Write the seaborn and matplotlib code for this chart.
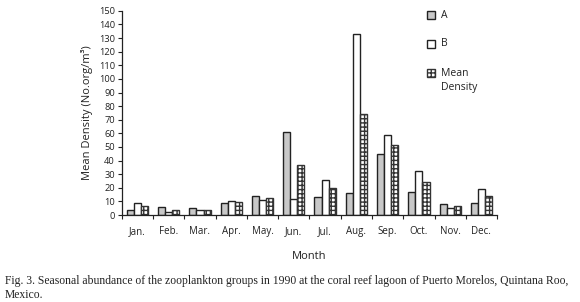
import matplotlib
matplotlib.use("Agg")
import matplotlib.pyplot as plt
import seaborn as sns
import pandas as pd
import numpy as np
from matplotlib.patches import Rectangle

months = ["Jan.", "Feb.", "Mar.", "Apr.", "May.", "Jun.", "Jul.", "Aug.", "Sep.", "Oct.", "Nov.", "Dec."]
series_a = [4, 6, 5, 9, 14, 61, 13, 16, 44.5, 17, 8, 9]
series_b = [9, 2.5, 3.5, 10, 11, 12, 26, 133, 59, 32, 5.5, 19]
series_mean = [6.5, 4, 4, 9.5, 12.5, 36.5, 19.5, 74.5, 51.5, 24.5, 6.5, 14]
series_names = ["A", "B", "Mean Density"]

df = pd.DataFrame({
    "Month": months * 3,
    "Value": series_a + series_b + series_mean,
    "Series": [series_names[0]] * 12 + [series_names[1]] * 12 + [series_names[2]] * 12,
})

sns.set_style("white")
plt.rcParams["font.family"] = ["Open Sans", "DejaVu Sans"]
plt.rcParams["hatch.linewidth"] = 1.0

fig = plt.figure(figsize=(5.8, 3.02), dpi=100)
ax = fig.add_axes([0.21, 0.288, 0.647, 0.676])

colors = ["#c8c8c8", "#ffffff", "#ffffff"]
sns.barplot(data=df, x="Month", y="Value", hue="Series", palette=colors,
            width=0.68, gap=0, ax=ax, legend=False, edgecolor="#222222", linewidth=1.0)

n = len(months)
for i, p in enumerate(ax.patches[:3 * n]):
    if i >= 2 * n:
        p.set_hatch("++++")
        p.set_edgecolor("#333333")

ax.set_ylim(0, 150)
ax.set_xlim(-0.5, n - 0.5)
ax.set_yticks(np.arange(0, 151, 10))
ax.tick_params(axis="y", labelsize=6.7, length=3, width=0.8, direction="out", left=True, pad=2, colors="#222222")
ax.set_xticks(range(n))
ax.set_xticklabels(months)
ax.tick_params(axis="x", which="major", length=0, labelsize=7, pad=8, colors="#222222")
ax.set_xticks(np.arange(-0.5, n, 1.0), minor=True)
ax.tick_params(axis="x", which="minor", length=3, width=0.8, direction="out", bottom=True, color="#222222")

for s in ["top", "right"]:
    ax.spines[s].set_visible(False)
for s in ["left", "bottom"]:
    ax.spines[s].set_color("#222222")
    ax.spines[s].set_linewidth(0.9)

ax.set_xlabel("Month", fontsize=8, labelpad=10, color="#222222")
ax.set_ylabel("Mean Density (No.org/m³)", fontsize=8, labelpad=4, color="#222222")

# Legend drawn manually (figure pixel layout)
W, H = 580.0, 302.0
leg_styles = [dict(facecolor=colors[0], edgecolor="#222222"),
              dict(facecolor="white", edgecolor="#222222"),
              dict(facecolor="white", edgecolor="#333333", hatch="++++")]
leg_y = [15, 44, 73]
for name, st, yc in zip(series_names, leg_styles, leg_y):
    fig.patches.append(Rectangle((427 / W, 1 - (yc + 4) / H), 8 / W, 8 / H,
                                 transform=fig.transFigure, linewidth=1.0, **st))
    words = name.split()
    fig.text(441 / W, 1 - yc / H, words[0], fontsize=7.5, color="#222222", va="center")
    if len(words) > 1:
        fig.text(441 / W, 1 - (yc + 15) / H, " ".join(words[1:]), fontsize=7.5,
                 color="#222222", va="center")

fig.text(0.008, 0.058, "Fig. 3. Seasonal abundance of the zooplankton groups in 1990 at the coral reef lagoon of Puerto Morelos, Quintana Roo,",
         family="Liberation Serif", fontsize=8.4, color="#222222")
fig.text(0.008, 0.012, "Mexico.", family="Liberation Serif", fontsize=8.4, color="#222222")

fig.savefig("out.png", dpi=100)
